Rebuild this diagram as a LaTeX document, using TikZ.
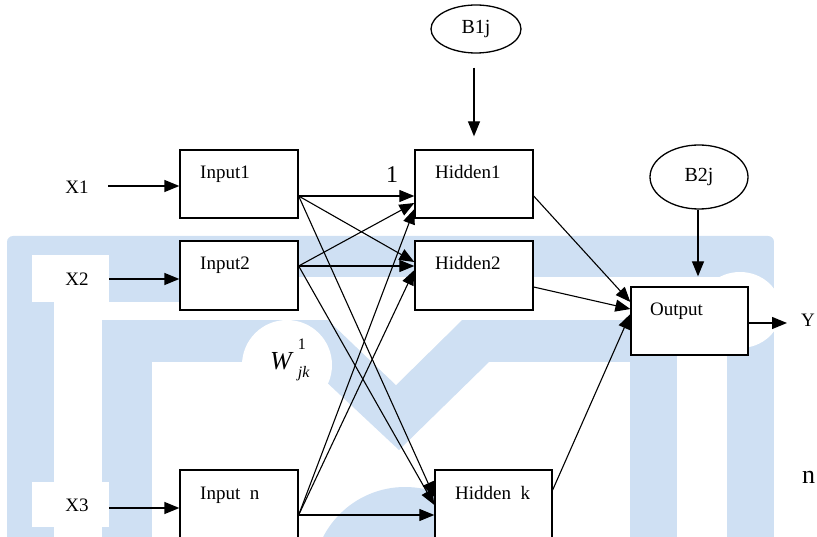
\documentclass[tikz,border=0pt]{standalone}
\usepackage{fontspec}
\setmainfont{Liberation Serif}
\usetikzlibrary{arrows.meta,calc,shapes.geometric}
\definecolor{wm}{RGB}{207,224,243}
\tikzset{
  nnbox/.style={draw, line width=1.3pt, fill=white, rectangle, inner sep=0pt,
                minimum width=118pt, minimum height=68pt},
  bias/.style={draw, ellipse, line width=1.3pt, fill=white, inner sep=0pt,
               font=\fontsize{20}{24}\selectfont},
  lbl/.style={inner sep=0pt, font=\fontsize{19}{22}\selectfont},
  arr/.style={line width=1.3pt, -{Triangle[length=15pt,width=12pt]}},
  wline/.style={line width=1.1pt, -{Triangle[length=15pt,width=12pt]}},
}
\begin{document}
\begin{tikzpicture}[x=1pt,y=-1pt]
\useasboundingbox (0,0) rectangle (817,537);
\clip (0,0) rectangle (817,537);

% ---- background logo ----
\fill[wm, rounded corners=6pt] (7,236) rectangle (774,560);
\fill[white] (32,255) rectangle (109,302);
\fill[white] (32,482) rectangle (109,527);
\fill[white] (54,302) rectangle (102,560);
\fill[white] (54,302) rectangle (240,320);
\fill[white] (240,277) rectangle (727,320);
\fill[white] (677,277) rectangle (727,560);
\fill[white] (740,310) ellipse [x radius=41pt, y radius=38pt];
\fill[white] (152,320) rectangle (630,560);
\fill[wm] (102,320) rectangle (630,362);
\fill[wm] (305,362) -- (399,450) -- (489,362) -- cycle;
\fill[white] (328,320) -- (462,320) -- (396,385) -- cycle;
\fill[white] (287,365) circle (45pt);
\fill[wm] (405,579) circle (92pt);
\fill[white] (774,236) rectangle (817,537);

% ---- layers ----
\node[nnbox] (in1) at (239,184) {};
\node[nnbox, minimum height=69pt] (in2) at (239,275.5) {};
\node[nnbox, minimum height=90pt] (inn) at (239,515) {};
\node[nnbox] (h1) at (474,184) {};
\node[nnbox, minimum height=69pt] (h2) at (474,275.5) {};
\node[nnbox, minimum width=117pt, minimum height=90pt] (hk) at (493.5,515) {};
\node[nnbox, minimum width=117pt] (out) at (689.5,321) {};

\node[lbl, anchor=base west] (tin1) at (200,179) {Input1};
\node[lbl, anchor=base west] (tin2) at (200,270) {Input2};
\node[lbl, anchor=base west] (tinn) at (200,499) {Input\ \ n};
\node[lbl, anchor=base west] (th1) at (435,179) {Hidden1};
\node[lbl, anchor=base west] (th2) at (435,270) {Hidden2};
\node[lbl, anchor=base west] (thk) at (455,499) {Hidden\ \ k};
\node[lbl, anchor=base west] (tout) at (650,316) {Output};

% bias nodes
\node[bias, minimum width=90pt, minimum height=48pt] (b1) at (476,29) {B1j};
\node[bias, minimum width=98pt, minimum height=64pt] (b2) at (699,177) {B2j};

% input labels
\node[lbl] (x1) at (77,187) {X1};
\node[lbl] (x2) at (77,279) {X2};
\node[lbl] (x3) at (77,505) {X3};
\coordinate (x1s) at (108,186);
\coordinate (x2s) at (109,279);
\coordinate (x3s) at (109,508);
\draw[arr] (x1s) -- (x1s -| in1.west);
\draw[arr] (x2s) -- (x2s -| in2.west);
\draw[arr] (x3s) -- (x3s -| inn.west);

% weights input -> hidden
\draw[wline] ([yshift=-12pt]in1.east) -- ([yshift=-12pt]h1.west);
\draw[wline] ([yshift=-12pt]in1.east) -- ([yshift=13.5pt]h2.west);
\draw[wline] ([yshift=-12pt]in1.east) -- ([yshift=18pt]hk.west);
\draw[wline] ([yshift=9.5pt]in2.east) -- ([yshift=-19pt]h1.west);
\draw[wline] ([yshift=9.5pt]in2.east) -- ([yshift=9.5pt]h2.west);
\draw[wline] ([yshift=9.5pt]in2.east) -- ([yshift=10pt]hk.west);
\draw[wline] (inn.east) -- ([yshift=-25pt]h1.west);
\draw[wline] (inn.east) -- ([yshift=5.5pt]h2.west);
\draw[wline] (inn.east) -- (hk.west);

% hidden -> output
\draw[wline] ([yshift=-12pt]h1.east) -- ([yshift=19pt]out.west);
\draw[wline] ([yshift=-11.5pt]h2.east) -- ([yshift=12pt]out.west);
\draw[wline] ([yshift=25pt]hk.east) -- ([yshift=7pt]out.west);

% biases
\draw[arr, shorten <=14pt, shorten >=13pt] ([xshift=-2pt]b1.south) -- ([xshift=-2pt]b1.south |- h1.north);
\draw[arr, shorten >=10pt] ([xshift=-1pt]b2.south) -- ([xshift=-1pt]b2.south |- out.north);

% output
\coordinate (yend) at (787,323);
\draw[arr] ([yshift=-2pt]out.east) -- (yend);
\node[lbl, anchor=base west] (ylab) at (801,327) {Y};
\node[inner sep=0pt, anchor=base west, font=\fontsize{26}{30}\selectfont] (nlab) at (802,483) {n};

% weight labels
\node[inner sep=0pt, font=\fontsize{24}{28}\selectfont] (one) at (392,175) {1};
\node[inner sep=0pt, anchor=base west] (wjk) at (270,370)
  {\fontsize{26}{26}\selectfont\itshape W\hspace{6pt}\rlap{\raisebox{20pt}{\fontsize{16}{16}\selectfont\upshape 1}}\raisebox{-8pt}{\fontsize{16}{16}\selectfont jk}};
\end{tikzpicture}
\end{document}
